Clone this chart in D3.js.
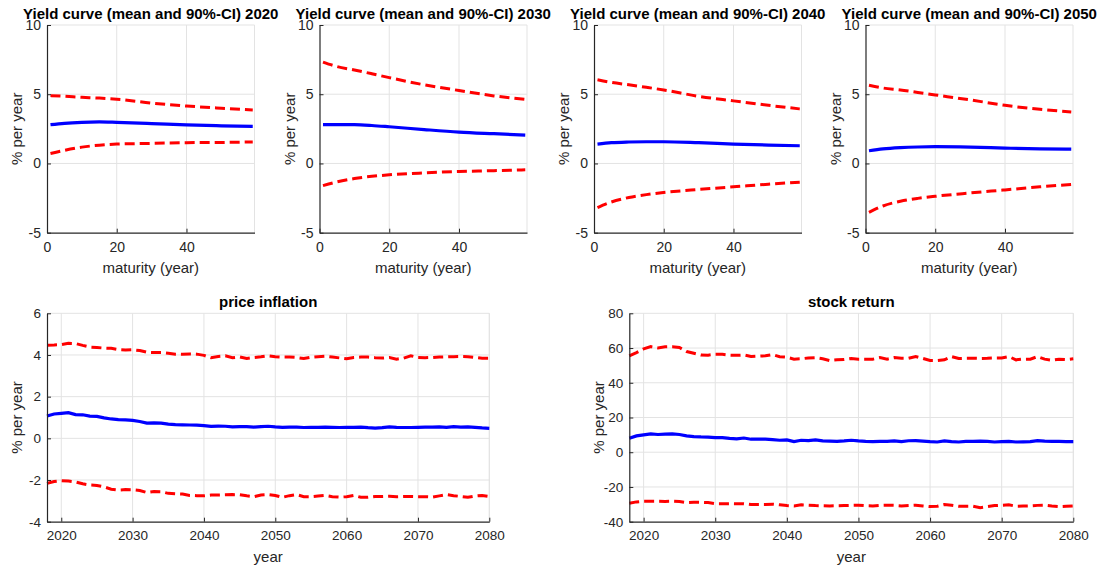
<!DOCTYPE html>
<html>
<head>
<meta charset="utf-8">
<script src="https://cdn.jsdelivr.net/npm/d3@7"></script>
<style>
  body { margin: 0; background: #fff; }
  svg { font-family: "Liberation Sans", Arial, sans-serif; }
</style>
</head>
<body>
<svg id="chart" width="1111" height="566"></svg>
<script>
// maturities (years) used for yield curves
const maturities = [1, 5, 10, 15, 20, 30, 40, 50, 59];

const yc2020Mean  = [2.8, 2.9, 2.97, 3.0, 2.97, 2.88, 2.78, 2.72, 2.68];
const yc2020Upper = [4.9, 4.85, 4.78, 4.72, 4.64, 4.36, 4.15, 3.99, 3.86];
const yc2020Lower = [0.72, 0.95, 1.18, 1.32, 1.4, 1.45, 1.5, 1.52, 1.55];

const yc2030Mean  = [2.8, 2.81, 2.8, 2.74, 2.65, 2.45, 2.27, 2.15, 2.05];
const yc2030Upper = [7.32, 7.0, 6.75, 6.48, 6.2, 5.68, 5.27, 4.88, 4.64];
const yc2030Lower = [-1.6, -1.33, -1.09, -0.93, -0.82, -0.68, -0.58, -0.52, -0.46];

const yc2040Mean  = [1.4, 1.5, 1.55, 1.57, 1.57, 1.5, 1.4, 1.33, 1.28];
const yc2040Upper = [6.04, 5.85, 5.68, 5.5, 5.31, 4.85, 4.52, 4.2, 3.94];
const yc2040Lower = [-3.19, -2.78, -2.46, -2.25, -2.1, -1.88, -1.69, -1.5, -1.35];

const yc2050Mean  = [0.92, 1.05, 1.14, 1.19, 1.21, 1.18, 1.11, 1.06, 1.04];
const yc2050Upper = [5.65, 5.45, 5.31, 5.13, 4.95, 4.59, 4.2, 3.91, 3.72];
const yc2050Lower = [-3.53, -3.07, -2.73, -2.52, -2.37, -2.13, -1.91, -1.69, -1.52];

// simulation years 2018..2080
const years = d3.range(2018, 2081);

const inflMean = [1.07, 1.17, 1.2, 1.23, 1.14, 1.13, 1.07, 1.05, 0.98, 0.93, 0.9, 0.89, 0.86, 0.81, 0.73, 0.74,
  0.73, 0.68, 0.66, 0.65, 0.64, 0.63, 0.61, 0.57, 0.59, 0.58, 0.55, 0.56, 0.56, 0.54, 0.56, 0.58, 0.55, 0.53,
  0.54, 0.54, 0.52, 0.53, 0.53, 0.54, 0.53, 0.52, 0.53, 0.53, 0.54, 0.51, 0.49, 0.51, 0.55, 0.53, 0.52, 0.52,
  0.53, 0.54, 0.54, 0.55, 0.53, 0.56, 0.54, 0.55, 0.53, 0.5, 0.48];
const inflUpper = [4.47, 4.48, 4.5, 4.56, 4.55, 4.46, 4.38, 4.36, 4.33, 4.32, 4.26, 4.24, 4.25, 4.21, 4.13, 4.12,
  4.12, 4.08, 4.04, 4.03, 4.05, 4.04, 3.98, 3.87, 3.93, 3.96, 3.87, 3.91, 3.83, 3.88, 3.91, 3.96, 3.92, 3.9,
  3.9, 3.88, 3.83, 3.89, 3.92, 3.94, 3.9, 3.86, 3.82, 3.88, 3.9, 3.9, 3.87, 3.85, 3.88, 3.8, 3.85, 3.96,
  3.88, 3.87, 3.88, 3.9, 3.91, 3.92, 3.93, 3.92, 3.88, 3.84, 3.84];
const inflLower = [-2.16, -2.07, -2.03, -2.05, -2.09, -2.18, -2.24, -2.26, -2.33, -2.44, -2.48, -2.46, -2.47, -2.5,
  -2.6, -2.55, -2.56, -2.64, -2.66, -2.67, -2.74, -2.75, -2.76, -2.72, -2.72, -2.71, -2.7, -2.71, -2.76, -2.8,
  -2.72, -2.7, -2.74, -2.83, -2.75, -2.7, -2.8, -2.8, -2.77, -2.74, -2.8, -2.82, -2.8, -2.74, -2.83, -2.83,
  -2.79, -2.79, -2.78, -2.8, -2.79, -2.79, -2.8, -2.8, -2.82, -2.76, -2.7, -2.75, -2.79, -2.83, -2.77, -2.74, -2.79];

const stockMean = [8.0, 9.4, 10.0, 10.6, 10.2, 10.4, 10.6, 10.2, 9.4, 9.0, 8.8, 8.7, 8.4, 8.4, 8.0, 7.7, 8.2,
  7.5, 7.5, 7.5, 7.3, 6.9, 7.1, 6.1, 6.9, 6.7, 7.1, 6.5, 6.4, 6.3, 6.5, 6.9, 6.5, 6.2, 6.1, 6.2, 6.3, 6.5,
  6.1, 6.6, 6.7, 6.4, 6.1, 5.9, 6.5, 6.1, 5.9, 6.2, 6.3, 6.4, 6.3, 5.9, 6.1, 6.3, 5.9, 6.0, 6.1, 6.7, 6.4,
  6.3, 6.2, 6.1, 6.1];
const stockUpper = [55.5, 57.4, 59.5, 60.8, 60.1, 60.7, 60.8, 60.3, 58.0, 57.0, 56.0, 55.9, 56.4, 56.4, 55.9,
  55.8, 56.0, 55.1, 55.3, 55.5, 56.2, 55.0, 54.7, 53.6, 53.8, 54.3, 54.5, 53.8, 52.8, 53.2, 53.4, 54.0, 53.6,
  53.6, 53.6, 54.5, 53.6, 54.5, 54.1, 54.1, 55.1, 54.0, 52.8, 52.8, 53.2, 55.1, 54.0, 54.1, 54.1, 54.0, 54.1,
  54.3, 54.3, 55.1, 53.2, 53.6, 53.6, 55.1, 53.6, 53.0, 53.6, 53.4, 53.8];
const stockLower = [-29.4, -28.6, -28.2, -28.2, -28.2, -28.3, -28.2, -28.4, -29.0, -28.8, -28.8, -29.0, -29.6,
  -29.6, -29.6, -29.7, -29.6, -30.1, -30.1, -30.1, -29.9, -30.3, -30.7, -30.9, -30.3, -30.5, -30.7, -30.8,
  -30.9, -30.8, -30.7, -30.6, -30.5, -30.8, -30.9, -30.6, -30.5, -30.6, -30.9, -30.7, -30.5, -30.9, -31.3,
  -31.1, -30.1, -30.5, -31.1, -31.1, -31.1, -31.9, -31.3, -30.7, -30.5, -30.3, -31.1, -31.0, -30.9, -30.6,
  -30.5, -31.0, -31.3, -31.1, -30.9];

const yieldTicksX = [0, 20, 40];
const yieldTicksY = [-5, 0, 5, 10];
const yearTicks = [2020, 2030, 2040, 2050, 2060, 2070, 2080];
const inflTicks = [-4, -2, 0, 2, 4, 6];
const stockTicks = [-40, -20, 0, 20, 40, 60, 80];

const svg = d3.select("#chart");
const axisColor = "#262626";

function drawPanel(p) {
  const x = d3.scaleLinear().domain(p.xDomain).range([p.left, p.right]);
  const y = d3.scaleLinear().domain(p.yDomain).range([p.bottom, p.top]);
  const g = svg.append("g");

  // grid
  g.append("g")
    .selectAll("line")
    .data(p.xTicks.filter(t => x(t) > p.left + 1))
    .join("line")
    .attr("x1", d => x(d)).attr("x2", d => x(d))
    .attr("y1", p.top).attr("y2", p.bottom)
    .attr("stroke", "#e3e3e3").attr("stroke-width", 1);
  g.append("g")
    .selectAll("line")
    .data(p.yTicks.filter(t => y(t) < p.bottom - 1))
    .join("line")
    .attr("x1", p.left).attr("x2", p.right)
    .attr("y1", d => y(d)).attr("y2", d => y(d))
    .attr("stroke", "#e3e3e3").attr("stroke-width", 1);
  // right edge grid line (xlim end)
  g.append("line")
    .attr("x1", p.right).attr("x2", p.right)
    .attr("y1", p.top).attr("y2", p.bottom)
    .attr("stroke", "#e3e3e3");

  const xs = p.xs;
  const line = d3.line()
    .x((d, i) => x(xs[i]))
    .y(d => y(d))
    .curve(p.smooth ? d3.curveMonotoneX : d3.curveLinear);

  g.append("path").datum(p.upper)
    .attr("d", line).attr("fill", "none")
    .attr("stroke", "#ff0000").attr("stroke-width", 3)
    .attr("stroke-dasharray", "10,5");
  g.append("path").datum(p.lower)
    .attr("d", line).attr("fill", "none")
    .attr("stroke", "#ff0000").attr("stroke-width", 3)
    .attr("stroke-dasharray", "10,5");
  g.append("path").datum(p.mean)
    .attr("d", line).attr("fill", "none")
    .attr("stroke", "#0000ff").attr("stroke-width", 3.2);

  // axes with inward ticks
  const xAxis = g.append("g")
    .attr("transform", `translate(0,${p.bottom})`)
    .call(d3.axisBottom(x).tickValues(p.xTicks).tickFormat(d3.format("d"))
      .tickSizeInner(-4).tickSizeOuter(0).tickPadding(9));
  const yAxis = g.append("g")
    .attr("transform", `translate(${p.left},0)`)
    .call(d3.axisLeft(y).tickValues(p.yTicks).tickFormat(d => d < 0 ? "-" + Math.abs(d) : d)
      .tickSizeInner(-4).tickSizeOuter(0).tickPadding(6));
  [xAxis, yAxis].forEach(a => {
    a.select(".domain").attr("stroke", axisColor).attr("stroke-width", 1.2);
    a.selectAll(".tick line").attr("stroke", axisColor);
    a.selectAll(".tick text").attr("fill", axisColor)
      .attr("font-size", p.tickSize).attr("font-family", "Liberation Sans, Arial, sans-serif");
  });
  xAxis.selectAll(".tick text").attr("dy", "0.71em");

  // title
  g.append("text")
    .attr("x", (p.left + p.right) / 2).attr("y", p.top - 6)
    .attr("text-anchor", "middle")
    .attr("font-size", 15).attr("font-weight", "bold").attr("fill", "#000")
    .text(p.title);
  // labels
  g.append("text")
    .attr("x", (p.left + p.right) / 2).attr("y", p.bottom + 40)
    .attr("text-anchor", "middle").attr("font-size", 15).attr("fill", axisColor)
    .text(p.xLabel);
  g.append("text")
    .attr("transform", `translate(${p.left - 25},${(p.top + p.bottom) / 2}) rotate(-90)`)
    .attr("text-anchor", "middle").attr("font-size", 15).attr("fill", axisColor)
    .text("% per year");
}

const yieldPanels = [
  { year: 2020, left: 47, mean: yc2020Mean, upper: yc2020Upper, lower: yc2020Lower },
  { year: 2030, left: 319.5, mean: yc2030Mean, upper: yc2030Upper, lower: yc2030Lower },
  { year: 2040, left: 594, mean: yc2040Mean, upper: yc2040Upper, lower: yc2040Lower },
  { year: 2050, left: 865.5, mean: yc2050Mean, upper: yc2050Upper, lower: yc2050Lower }
];

yieldPanels.forEach(d => {
  drawPanel({
    left: d.left, right: d.left + 207.5, top: 25, bottom: 232.7,
    xDomain: [0, 59.5], yDomain: [-5, 10],
    xTicks: yieldTicksX, yTicks: yieldTicksY,
    xs: maturities, mean: d.mean, upper: d.upper, lower: d.lower, smooth: true,
    title: `Yield curve (mean and 90%-CI) ${d.year}`,
    xLabel: "maturity (year)", tickSize: 14
  });
});

drawPanel({
  left: 47, right: 489.3, top: 313.3, bottom: 521.7,
  xDomain: [2018, 2080], yDomain: [-4, 6],
  xTicks: yearTicks, yTicks: inflTicks,
  xs: years, mean: inflMean, upper: inflUpper, lower: inflLower, smooth: false,
  title: "price inflation", xLabel: "year", tickSize: 13.5
});

drawPanel({
  left: 629.3, right: 1073.3, top: 313.3, bottom: 521.7,
  xDomain: [2018, 2080], yDomain: [-40, 80],
  xTicks: yearTicks, yTicks: stockTicks,
  xs: years, mean: stockMean, upper: stockUpper, lower: stockLower, smooth: false,
  title: "stock return", xLabel: "year", tickSize: 13.5
});
</script>
</body>
</html>
